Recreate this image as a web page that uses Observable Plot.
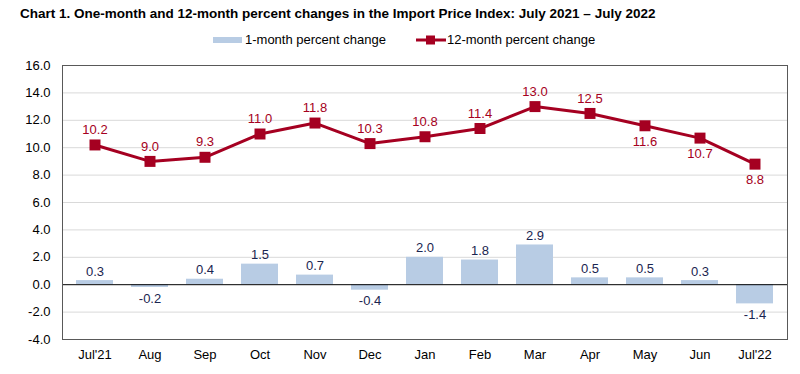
<!DOCTYPE html>
<html><head><meta charset="utf-8">
<script src="https://cdn.jsdelivr.net/npm/d3@7"></script>
<script src="https://cdn.jsdelivr.net/npm/@observablehq/plot@0.6"></script>
<style>
body{margin:0;background:#fff;font-family:"Liberation Sans",Arial,sans-serif;}
#title{height:28px;line-height:28px;padding-left:20px;font-weight:bold;font-size:13.5px;color:#000;white-space:nowrap;}
#legend{height:24px;position:relative;font-size:13px;color:#000;}
.li{position:absolute;top:0;height:24px;line-height:24px;display:flex;align-items:center;white-space:nowrap;}
</style></head>
<body>
<div id="title">Chart 1. One-month and 12-month percent changes in the Import Price Index: July 2021 – July 2022</div>
<div id="legend">
  <div class="li" style="left:213px"><svg width="29" height="8" style="margin-right:3px"><rect x="0" y="1" width="29" height="6" fill="#b8cce4"/></svg>1-month percent change</div>
  <div class="li" style="left:416px"><svg width="30" height="12" style="margin-right:1px"><line x1="0" x2="30" y1="6" y2="6" stroke="#a50021" stroke-width="3"/><rect x="10" y="1.5" width="9" height="9" fill="#a50021"/></svg>12-month percent change</div>
</div>
<div id="chart"></div>
<script>
const months = ["Jul'21","Aug","Sep","Oct","Nov","Dec","Jan","Feb","Mar","Apr","May","Jun","Jul'22"];
const oneMonth = [0.3,-0.2,0.4,1.5,0.7,-0.4,2.0,1.8,2.9,0.5,0.5,0.3,-1.4];
const twelveMonth = [10.2,9.0,9.3,11.0,11.8,10.3,10.8,11.4,13.0,12.5,11.6,10.7,8.8];
const labelBelow = [false,false,false,false,false,false,false,false,false,false,true,true,true];
const yTicks = [-4,-2,0,2,4,6,8,10,12,14,16];

const data = months.map((m,i)=>({m, one: oneMonth[i], twelve: twelveMonth[i], below: labelBelow[i]}));
const red = "#a50021";
const navy = "#1a2550";

const chart = Plot.plot({
  width: 800,
  height: 322,
  marginTop: 13,
  marginBottom: 35,
  marginLeft: 62,
  marginRight: 13,
  style: {fontFamily: "'Liberation Sans', Arial, sans-serif", fontSize: "13px", color: "#000", background: "#fff"},
  x: {type: "band", domain: months, paddingInner: 0.33, paddingOuter: 0.165, label: null},
  y: {domain: [-4, 16], label: null},
  marks: [
    Plot.ruleY(yTicks.filter(d=>d!==0), {stroke: "#d9d9d9", strokeWidth: 1}),
    Plot.barY(data, {x: "m", y: "one", fill: "#b8cce4"}),
    Plot.ruleY([0], {stroke: "#000", strokeWidth: 1}),
    Plot.frame({stroke: "#595959", strokeWidth: 1}),
    Plot.axisX({tickSize: 0, tickPadding: 10, fontSize: 13, fill: "#000"}),
    Plot.axisY({ticks: yTicks, tickSize: 0, tickPadding: 12, tickFormat: d=>d.toFixed(1), fontSize: 13, fill: "#000"}),
    Plot.line(data, {x: "m", y: "twelve", stroke: red, strokeWidth: 3}),
    Plot.dot(data, {x: "m", y: "twelve", symbol: "square", r: 6.2, fill: red, stroke: "none"}),
    Plot.text(data.filter(d=>!d.below), {x: "m", y: "twelve", text: d=>d.twelve.toFixed(1), dy: -15, fill: red, fontSize: 13}),
    Plot.text(data.filter(d=>d.below), {x: "m", y: "twelve", text: d=>d.twelve.toFixed(1), dy: 16, fill: red, fontSize: 13}),
    Plot.text(data.filter(d=>d.one>=0), {x: "m", y: "one", text: d=>d.one.toFixed(1), dy: -9, fill: navy, fontSize: 13}),
    Plot.text(data.filter(d=>d.one<0), {x: "m", y: "one", text: d=>d.one.toFixed(1), dy: 11, fill: navy, fontSize: 13})
  ]
});
document.getElementById("chart").appendChild(chart);
</script>
</body></html>
